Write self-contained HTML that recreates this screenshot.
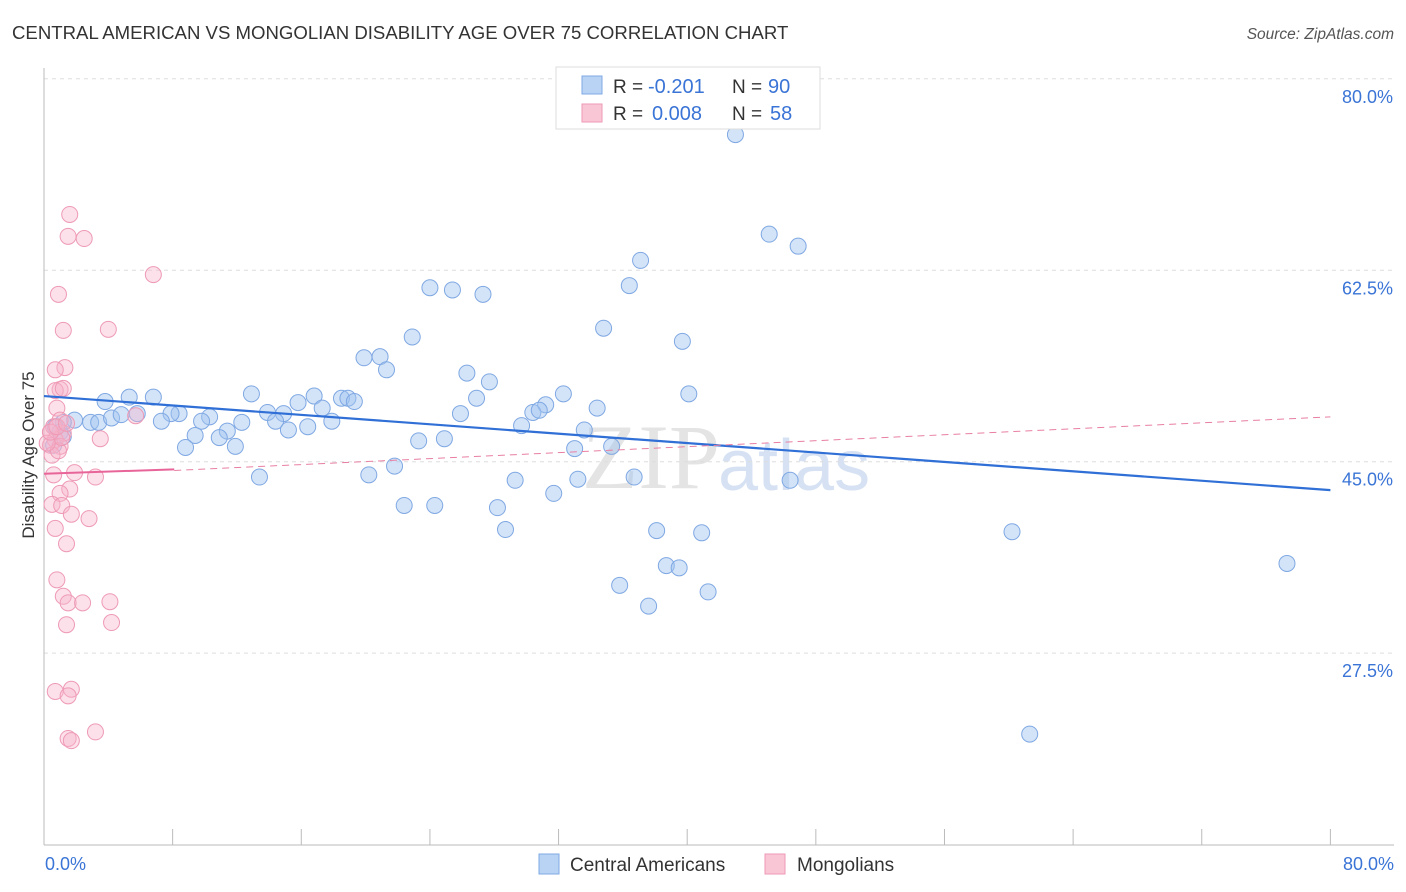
<!DOCTYPE html>
<html><head><meta charset="utf-8"><style>
body{margin:0;background:#fff;font-family:"Liberation Sans",sans-serif;}
svg{display:block}
</style></head><body>
<svg id="chart" width="1406" height="892">
<text x="12" y="39" font-size="18.6" fill="#333">CENTRAL AMERICAN VS MONGOLIAN DISABILITY AGE OVER 75 CORRELATION CHART</text>
<text x="1394" y="39" font-size="15.5" fill="#555" text-anchor="end" font-style="italic">Source: ZipAtlas.com</text>
<text x="720" y="488" font-size="92" fill="#e4e4e4" text-anchor="end" font-family="Liberation Serif">ZIP</text>
<text x="718" y="490" font-size="72" fill="#d6e2f3">atlas</text>
<g id="grid"></g><g id="axes"></g><g id="marks"></g>
<text x="34" y="455" font-size="17" fill="#333" text-anchor="middle" transform="rotate(-90 34 455)">Disability Age Over 75</text>
<text x="45" y="870" font-size="18" fill="#3a74d6">0.0%</text>
<text x="1394" y="870" font-size="18" fill="#3a74d6" text-anchor="end">80.0%</text>
<g>
<rect x="556" y="67" width="264" height="62" fill="#fff" stroke="#ddd"/>
<rect x="582" y="76" width="20" height="18" fill="#b9d3f5" stroke="#7fa8e3"/>
<text x="613" y="93" font-size="19" fill="#333">R =</text>
<text x="648" y="93" font-size="20" fill="#3a74d6">-0.201</text>
<text x="732" y="93" font-size="19" fill="#333">N =</text>
<text x="768" y="93" font-size="20" fill="#3a74d6">90</text>
<rect x="582" y="104" width="20" height="18" fill="#f9c6d6" stroke="#ee9ab5"/>
<text x="613" y="120" font-size="19" fill="#333">R =</text>
<text x="652" y="120" font-size="20" fill="#3a74d6">0.008</text>
<text x="732" y="120" font-size="19" fill="#333">N =</text>
<text x="770" y="120" font-size="20" fill="#3a74d6">58</text>
</g>
<g>
<rect x="539" y="854" width="20" height="20" fill="#b9d3f5" stroke="#7fa8e3"/>
<text x="570" y="871" font-size="19" fill="#333">Central Americans</text>
<rect x="765" y="854" width="20" height="20" fill="#f9c6d6" stroke="#ee9ab5"/>
<text x="797" y="871" font-size="19" fill="#333">Mongolians</text>
</g>
</svg>
<script>
const yTicks=[27.5,45,62.5,80];
const xTicks=[0,8,16,24,32,40,48,56,64,72,80];
const blueX=[43.0,45.1,46.9,37.1,36.4,24.0,25.4,27.3,34.8,22.9,39.7,19.9,20.9,21.3,26.3,27.7,40.1,12.9,16.8,18.5,18.9,19.3,32.3,31.2,5.3,6.8,3.8,15.8,26.9,34.4,17.3,8.4,7.9,5.8,10.3,13.9,14.9,25.9,30.4,30.8,1.9,1.2,2.9,3.4,4.2,4.8,7.3,9.8,12.3,14.4,16.4,17.9,29.7,33.6,0.7,1.0,11.4,9.4,10.9,15.2,1.2,8.8,11.9,23.3,24.9,33.0,35.3,0.6,13.4,20.2,21.8,36.7,29.3,33.2,46.4,31.7,22.4,24.3,28.2,28.7,38.1,40.9,60.2,38.7,39.5,77.3,35.8,41.3,37.6,61.3];
const blueY=[74.9,65.8,64.7,63.4,61.1,60.9,60.7,60.3,57.2,56.4,56.0,54.5,54.6,53.4,53.1,52.3,51.2,51.2,51.0,50.8,50.8,50.5,51.2,50.2,50.9,50.9,50.5,50.4,50.8,49.9,49.9,49.4,49.4,49.4,49.1,49.5,49.4,49.4,49.5,49.7,48.8,48.6,48.6,48.6,49.0,49.3,48.7,48.7,48.6,48.7,48.2,48.7,48.3,47.9,48.2,47.7,47.8,47.4,47.2,47.9,47.3,46.3,46.4,46.9,47.1,46.2,46.4,46.5,43.6,43.8,44.6,43.6,43.3,43.4,43.3,42.1,41.0,41.0,40.8,38.8,38.7,38.5,38.6,35.5,35.3,35.7,33.7,33.1,31.8,20.1];
const pinkX=[1.6,1.5,2.5,6.8,0.9,1.2,4.0,1.3,0.7,1.0,0.7,1.2,0.8,5.7,1.0,0.4,1.2,0.7,0.4,1.0,0.5,3.5,1.9,0.6,3.2,1.6,1.0,0.5,1.1,1.7,2.8,0.7,1.4,0.8,1.2,1.5,2.4,4.1,1.4,4.2,0.7,1.7,1.5,3.2,1.5,1.7,0.6,0.9,1.1,0.2,0.4,0.8,1.4];
const pinkY=[67.6,65.6,65.4,62.1,60.3,57.0,57.1,53.6,53.4,51.6,51.5,51.7,49.9,49.2,48.8,47.7,47.6,47.0,46.5,46.4,45.6,47.1,44.0,43.8,43.6,42.5,42.1,41.1,41.0,40.2,39.8,38.9,37.5,34.2,32.7,32.1,32.1,32.2,30.1,30.3,24.0,24.2,23.6,20.3,19.7,19.5,48.2,46.0,47.2,46.7,47.7,48.2,48.5];
const X0=44,XS=16.08,Y0=954,YS=10.94;
const sx=v=>X0+v*XS, sy=v=>Y0-v*YS;
const NS='http://www.w3.org/2000/svg';
function mk(tag,attrs,parent){const e=document.createElementNS(NS,tag);for(const k in attrs)e.setAttribute(k,attrs[k]);parent.appendChild(e);return e;}
const grid=document.getElementById('grid'),axes=document.getElementById('axes'),marks=document.getElementById('marks');
yTicks.forEach(t=>{
 const l=mk('line',{x1:44,x2:1394,y1:sy(t),y2:sy(t),stroke:'#ddd','stroke-dasharray':'4,4'},grid);
 
 
 const tx=mk('text',{x:1393,y:sy(t)+24,'font-size':18,fill:'#3a74d6','text-anchor':'end'},axes);
 tx.textContent=t.toFixed(1)+'%';
 
 
});
mk('line',{x1:44,x2:44,y1:68,y2:845,stroke:'#bbb'},axes);
mk('line',{x1:44,x2:1394,y1:845,y2:845,stroke:'#bbb'},axes);
xTicks.forEach(t=>{
 const l=mk('line',{x1:sx(t),x2:sx(t),y1:829,y2:845,stroke:'#bbb'},axes);
 
 
});
blueX.forEach((x,i)=>{
 const c=mk('circle',{cx:sx(x),cy:sy(blueY[i]),r:8,fill:'rgba(160,196,240,0.45)',stroke:'#7fa8e3','stroke-width':1},marks);
 
 
});
pinkX.forEach((x,i)=>{
 const c=mk('circle',{cx:sx(x),cy:sy(pinkY[i]),r:8,fill:'rgba(247,180,202,0.4)',stroke:'#ee9ab5','stroke-width':1},marks);
 
 
});
const bt=mk('line',{x1:sx(0),y1:sy(51.0),x2:sx(80),y2:sy(42.4),stroke:'#2f6fd6','stroke-width':2.2},marks);


const pd=mk('line',{x1:sx(8.1),y1:sy(44.2),x2:sx(80),y2:sy(49.1),stroke:'#e87fa3','stroke-width':1,'stroke-dasharray':'7,5'},marks);


const pt=mk('line',{x1:sx(0),y1:sy(43.9),x2:sx(8.1),y2:sy(44.3),stroke:'#e8659a','stroke-width':2},marks);


</script>
</body></html>
